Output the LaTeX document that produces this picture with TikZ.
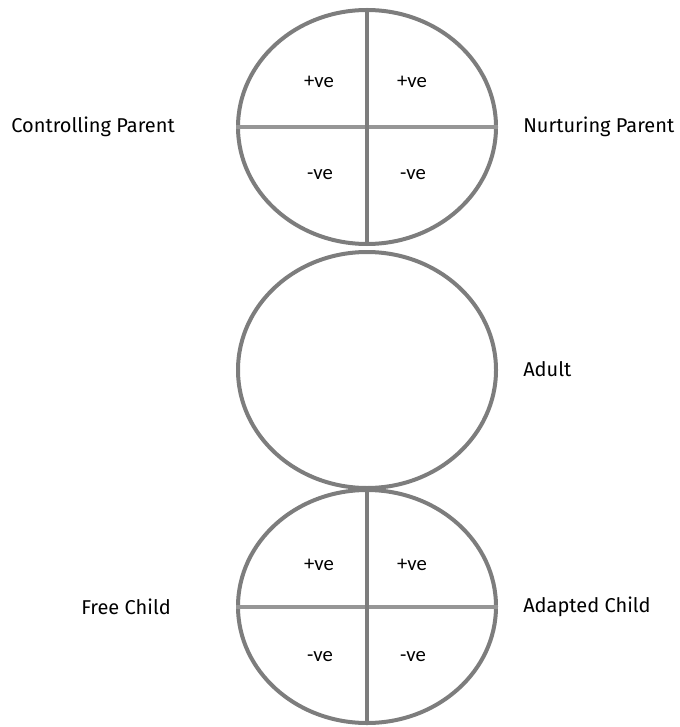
\documentclass[tikz,border=0pt]{standalone}
\usepackage{fontspec}
\setmainfont{Fira Sans}
\newfontfamily\signfont{Carlito}
\usepackage{xcolor}
\usetikzlibrary{shapes.geometric,positioning,calc}
\definecolor{ringgray}{RGB}{125,125,125}
\definecolor{crossgray}{RGB}{150,150,150}
\tikzset{>=latex}
\tikzset{
  egostate/.style={draw=ringgray, line width=3pt, ellipse, inner sep=0pt,
    minimum width=193.5pt, minimum height=175.5pt},
  vsplit/.style={draw=ringgray, line width=3pt},
  hsplit/.style={draw=crossgray, line width=3pt},
  sign/.style={font=\signfont\fontsize{15.5}{18}\selectfont},
  statename/.style={font=\fontsize{15}{18}\selectfont, inner sep=0pt}
}

\begin{document}
\begin{tikzpicture}[x=0.75pt, y=-0.75pt]
\useasboundingbox (0,0) rectangle (680,727);

\node[egostate] (parent) at (367,127) {};
\node[egostate, minimum height=177pt] (adult) at (367,370) {};
\node[egostate, minimum height=174.75pt] (child) at (367,606.5) {};

\draw[hsplit] (parent.west) -- (parent.east);
\draw[vsplit] (parent.north) -- (parent.south);
\draw[hsplit] (child.west) -- (child.east);
\draw[vsplit] (child.north) -- (child.south);

\node[sign] (p1) at (319,82) {+ve};
\node[sign] (p2) at (412,82) {+ve};
\node[sign] (p3) at (320,175) {-ve};
\node[sign] (p4) at (413,175) {-ve};

\node[sign] (c1) at (319,565) {+ve};
\node[sign] (c2) at (412,565) {+ve};
\node[sign] (c3) at (320,657) {-ve};
\node[sign] (c4) at (413,657) {-ve};

\node[statename, anchor=east] (cp) at (175,127) {Controlling Parent};
\node[statename, anchor=west] (np) at (523,127) {Nurturing Parent};
\node[statename, anchor=west] (ad) at (523,369) {Adult};
\node[statename, anchor=east] (fc) at (171,607) {Free Child};
\node[statename, anchor=west] (ac) at (523,607) {Adapted Child};
\end{tikzpicture}
\end{document}
